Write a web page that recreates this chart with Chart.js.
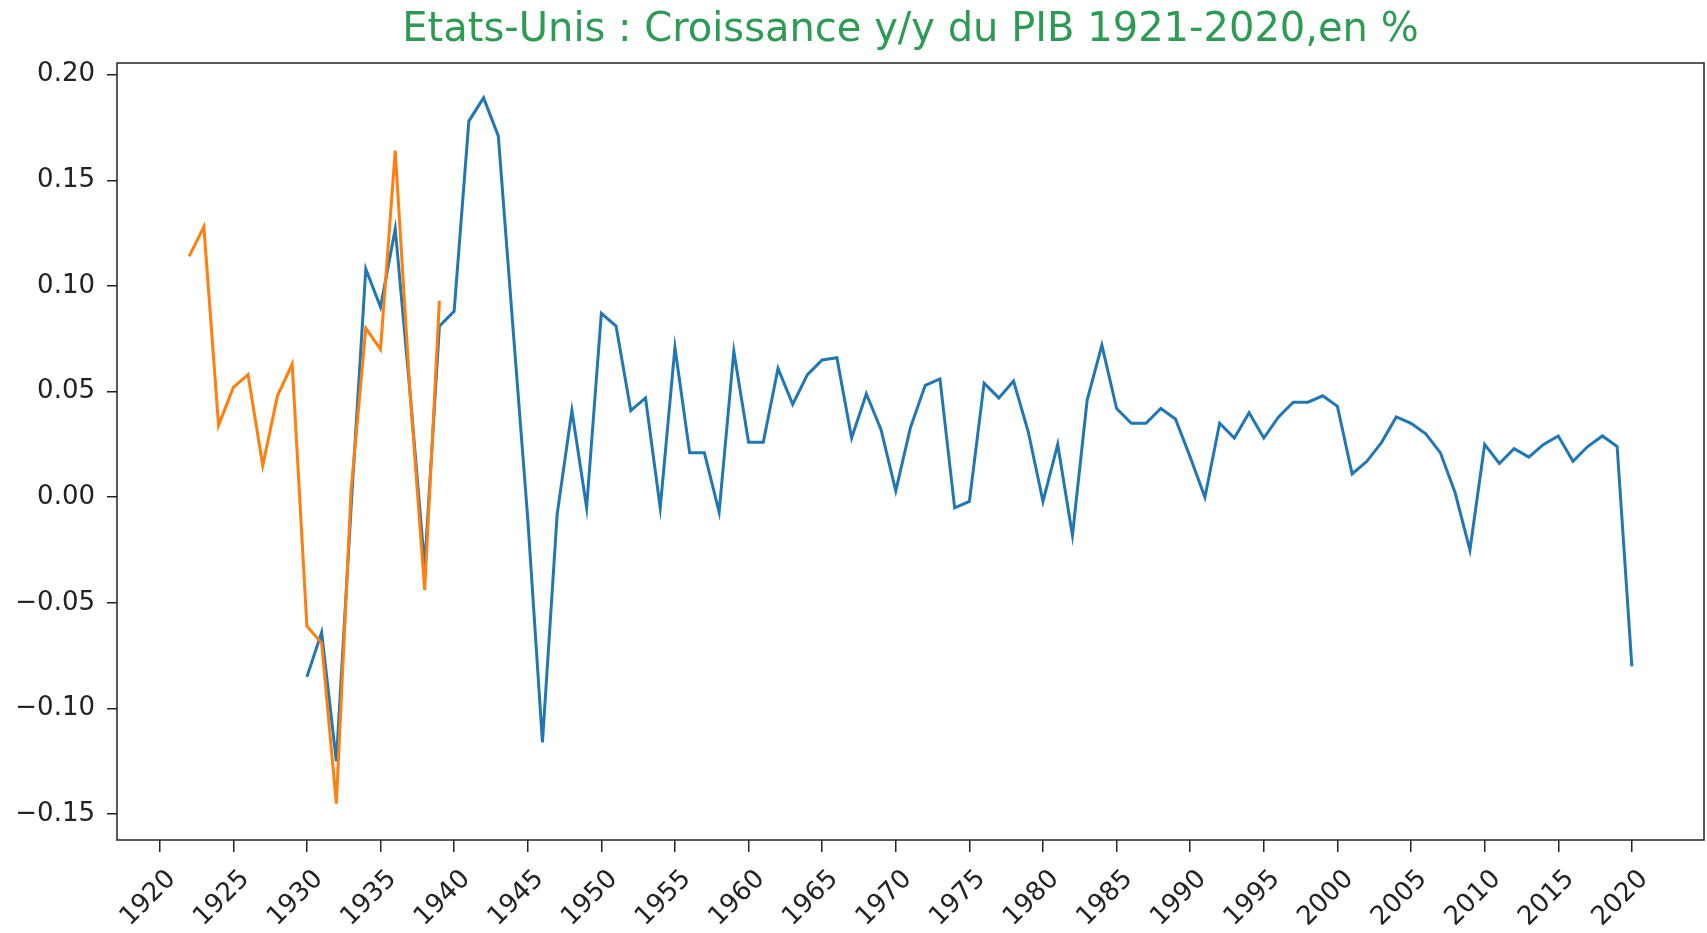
<!DOCTYPE html>
<html>
<head>
<meta charset="utf-8">
<script src="https://cdn.jsdelivr.net/npm/chart.js@4.4.1/dist/chart.umd.min.js"></script>
<style>
  html, body { margin: 0; padding: 0; background: #fff; }
  canvas { display: block; }
</style>
</head>
<body>
<canvas id="gdpChart" width="1707" height="933"></canvas>
<script>
// Croissance annuelle du PIB américain
const oldYears = [1922, 1923, 1924, 1925, 1926, 1927, 1928, 1929, 1930,
    1931, 1932, 1933, 1934, 1935, 1936, 1937, 1938, 1939]
const oldGrowth = [0.114, 0.128, 0.034, 0.052, 0.058, 0.015, 0.048, 0.063, -0.061,
    -0.069, -0.145, 0.003, 0.080, 0.070, 0.164, 0.050, -0.044, 0.093]

const years = [
    1930, 1931, 1932, 1933, 1934, 1935, 1936, 1937, 1938, 1939,
    1940, 1941, 1942, 1943, 1944, 1945, 1946, 1947, 1948, 1949,
    1950, 1951, 1952, 1953, 1954, 1955, 1956, 1957, 1958, 1959,
    1960, 1961, 1962, 1963, 1964, 1965, 1966, 1967, 1968, 1969,
    1970, 1971, 1972, 1973, 1974, 1975, 1976, 1977, 1978, 1979,
    1980, 1981, 1982, 1983, 1984, 1985, 1986, 1987, 1988, 1989,
    1990, 1991, 1992, 1993, 1994, 1995, 1996, 1997, 1998, 1999,
    2000, 2001, 2002, 2003, 2004, 2005, 2006, 2007, 2008, 2009,
    2010, 2011, 2012, 2013, 2014, 2015, 2016, 2017, 2018, 2019,
    2020]
const growth = [
    -0.085, -0.064, -0.125, -0.005, 0.108, 0.090, 0.127, 0.050, -0.033, 0.081,
    0.088, 0.178, 0.189, 0.171, 0.080, -0.010, -0.116, -0.008, 0.041, -0.005,
    0.087, 0.081, 0.041, 0.047, -0.005, 0.071, 0.021, 0.021, -0.007, 0.069,
    0.026, 0.026, 0.061, 0.044, 0.058, 0.065, 0.066, 0.028, 0.049, 0.032,
    0.003, 0.033, 0.053, 0.056, -0.005, -0.002, 0.054, 0.047, 0.055, 0.031,
    -0.002, 0.025, -0.018, 0.046, 0.072, 0.042, 0.035, 0.035, 0.042, 0.037,
    0.019, 0.000, 0.035, 0.028, 0.040, 0.028, 0.038, 0.045, 0.045, 0.048,
    0.043, 0.011, 0.017, 0.026, 0.038, 0.035, 0.030, 0.021, 0.002, -0.025,
    0.025, 0.016, 0.023, 0.019, 0.025, 0.029, 0.017, 0.024, 0.029, 0.024,
    -0.080]

const xTicks = [1920, 1925, 1930, 1935, 1940, 1945, 1950, 1955, 1960, 1965, 1970,
    1975, 1980, 1985, 1990, 1995, 2000, 2005, 2010, 2015, 2020]
const yTicks = [-0.15, -0.10, -0.05, 0.00, 0.05, 0.10, 0.15, 0.20]

const toPoints = (xs, ys) => xs.map((x, i) => ({ x: x, y: ys[i] }))

// cadre autour de la zone de tracé (style matplotlib)
const frame = {
    id: 'frame',
    afterDraw(chart) {
        const { ctx, chartArea } = chart
        ctx.save()
        ctx.strokeStyle = '#222'
        ctx.lineWidth = 1.5
        ctx.strokeRect(chartArea.left, chartArea.top,
            chartArea.right - chartArea.left, chartArea.bottom - chartArea.top)
        ctx.restore()
    }
}

const tickFont = { family: 'DejaVu Sans', size: 26 }

new Chart(document.getElementById('gdpChart'), {
    type: 'line',
    data: {
        datasets: [
            {
                data: toPoints(years, growth),
                borderColor: '#1f77b4',
                borderWidth: 3,
                pointRadius: 0,
                tension: 0,
                order: 1
            },
            {
                data: toPoints(oldYears, oldGrowth),
                borderColor: '#ff7f0e',
                borderWidth: 3,
                pointRadius: 0,
                tension: 0,
                order: 0
            }
        ]
    },
    options: {
        responsive: false,
        animation: false,
        devicePixelRatio: 1,
        layout: { padding: { left: 0, right: 3, top: 0, bottom: 0 } },
        plugins: {
            legend: { display: false },
            tooltip: { enabled: false },
            title: {
                display: true,
                fullSize: false,
                text: 'Etats-Unis : Croissance y/y du PIB 1921-2020,en %',
                color: '#2e9b55',
                font: { family: 'DejaVu Sans', size: 40, weight: 'normal' },
                padding: { top: 7, bottom: 8 }
            }
        },
        scales: {
            x: {
                type: 'linear',
                min: 1917.1,
                max: 2024.9,
                afterBuildTicks: axis => { axis.ticks = xTicks.map(v => ({ value: v })) },
                afterFit: axis => { axis.height = 93 },
                border: { display: false },
                grid: { drawOnChartArea: false, drawTicks: true, tickLength: 12, color: '#222', lineWidth: 1.5 },
                ticks: {
                    autoSkip: false,
                    maxRotation: 45,
                    minRotation: 45,
                    padding: 12,
                    labelOffset: 12,
                    color: '#222',
                    font: tickFont,
                    callback: v => String(v)
                }
            },
            y: {
                min: -0.1622,
                max: 0.2055,
                afterBuildTicks: axis => { axis.ticks = yTicks.map(v => ({ value: v })) },
                afterFit: axis => { axis.width = 117 },
                border: { display: false },
                grid: { drawOnChartArea: false, drawTicks: true, tickLength: 10, color: '#222', lineWidth: 1.5 },
                ticks: {
                    padding: 12,
                    color: '#222',
                    font: tickFont,
                    callback: v => (v < 0 ? '\u2212' : '') + Math.abs(v).toFixed(2)
                }
            }
        }
    },
    plugins: [frame]
})
</script>
</body>
</html>
